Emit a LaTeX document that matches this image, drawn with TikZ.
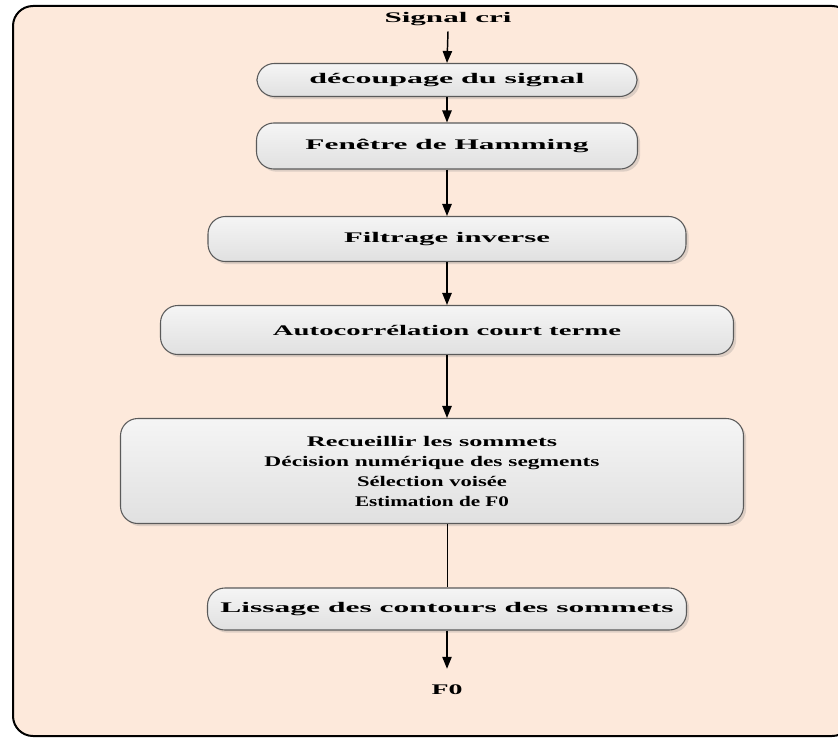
\documentclass[tikz,border=0pt]{standalone}
\usepackage{fontspec}
\setmainfont{Liberation Serif}
\usetikzlibrary{arrows.meta,shadows}
\newlength\px \setlength\px{0.75pt}
\newcommand\tw[2]{\resizebox{#1\px}{\height}{#2}}
\definecolor{bg}{HTML}{FDE9DB}
\definecolor{edge}{HTML}{5A5A5A}
\begin{document}
\begin{tikzpicture}[x=0.75pt,y=-0.75pt,
  box/.style={draw=edge, line width=0.8pt, rounded corners=13pt,
    top color=white!96!black, bottom color=black!12,
    drop shadow={opacity=0.25, shadow xshift=2pt, shadow yshift=-2pt},
    inner sep=0pt, font=\fontsize{11}{15}\selectfont\bfseries, align=center},
  lbl/.style={font=\fontsize{11}{15}\selectfont\bfseries, inner sep=0pt},
  arr/.style={-{Triangle[length=9pt,width=7pt]}, line width=1.1pt}]
\useasboundingbox (0,0) rectangle (838,738);
\draw[fill=bg, line width=1.5pt, rounded corners=15pt] (13,6) rectangle (852,736);
\node[lbl] (s) at (448,19) {\tw{127}{Signal cri}};
\node[box, minimum width=380\px, minimum height=33\px] (b1) at (447,80) {\tw{275}{découpage du signal}};
\node[box, minimum width=381\px, minimum height=46\px] (b2) at (447,146) {\tw{283}{Fenêtre de Hamming}};
\node[box, minimum width=478\px, minimum height=45\px] (b3) at (447,239) {\tw{206}{Filtrage inverse}};
\node[box, minimum width=573\px, minimum height=49\px] (b4) at (447,330) {\tw{348}{Autocorrélation court terme}};
\node[box, minimum width=623\px, minimum height=105\px] (b5) at (432,471) {\tw{250}{Recueillir les sommets}\\\tw{335}{Décision numérique des segments}\\\tw{150}{Sélection voisée}\\\tw{154}{Estimation de F0}};
\node[box, minimum width=479\px, minimum height=42\px] (b6) at (447,609) {\tw{453}{Lissage des contours des sommets}};
\node[lbl] (f) at (447,690) {\tw{31}{F0}};
\draw[arr] ([yshift=-4pt]s.south) -- (b1.north);
\draw[arr] (b1) -- (b2);
\draw[arr] (b2) -- (b3);
\draw[arr] (b3) -- (b4);
\draw[arr] (b4.south) -- (b4.south |- b5.north);
\draw[line width=0.6pt] (b6.north |- b5.south) -- (b6.north);
\draw[arr] (b6.south) -- ([yshift=12pt]f.north);
\end{tikzpicture}
\end{document}
